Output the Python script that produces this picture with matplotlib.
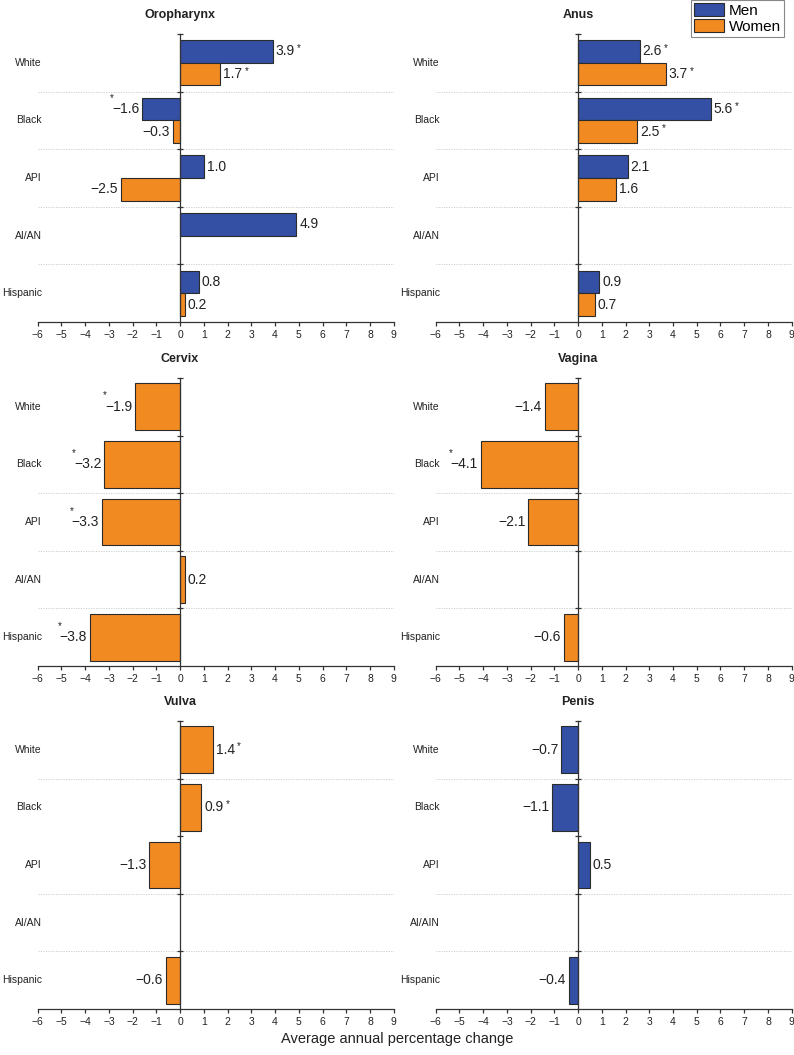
import matplotlib
matplotlib.use("Agg")
import matplotlib.pyplot as plt
import matplotlib.transforms as mtransforms
from matplotlib.patches import Patch

plt.rcParams['font.family'] = ['Liberation Sans', 'DejaVu Sans']

# ---------------- data ----------------
categories = ["White", "Black", "API", "AI/AN", "Hispanic"]
categories_penis = ["White", "Black", "API", "AI/AIN", "Hispanic"]

oro_men = [3.9, -1.6, 1.0, 4.9, 0.8]
oro_women = [1.7, -0.3, -2.5, None, 0.2]
oro_men_sig = [True, True, False, False, False]
oro_women_sig = [True, False, False, False, False]

anus_men = [2.6, 5.6, 2.1, None, 0.9]
anus_women = [3.7, 2.5, 1.6, None, 0.7]
anus_men_sig = [True, True, False, False, False]
anus_women_sig = [True, True, False, False, False]

cervix_women = [-1.9, -3.2, -3.3, 0.2, -3.8]
cervix_sig = [True, True, True, False, True]

vagina_women = [-1.4, -4.1, -2.1, None, -0.6]
vagina_sig = [False, True, False, False, False]

vulva_women = [1.4, 0.9, -1.3, None, -0.6]
vulva_sig = [True, True, False, False, False]

penis_men = [-0.7, -1.1, 0.5, None, -0.4]
penis_sig = [False, False, False, False, False]

x_ticks = list(range(-6, 10))

BLUE = "#3450A4"
ORANGE = "#F28A22"
EDGE = "#2b2b2b"

W, H = 794, 1055
fig = plt.figure(figsize=(W / 100, H / 100), dpi=100)

left_x, right_x = 37.7, 435.7
ax_w = 356.0
rows = [(34, 322), (378, 666), (721, 1009)]


def make_ax(x0, top, bottom):
    return fig.add_axes([x0 / W, 1 - bottom / H, ax_w / W, (bottom - top) / H])


def label_bar(ax, v, y, sig):
    if v >= 0:
        t = ax.annotate(f"{v:.1f}", xy=(v, y), xytext=(2, 0), textcoords="offset points",
                        ha="left", va="center", fontsize=10, color="#222222")
        if sig:
            ax.annotate("*", xy=(1, 0.75), xycoords=t, xytext=(1.5, 0),
                        textcoords="offset points", ha="left", va="center",
                        fontsize=7, color="#222222")
    else:
        t = ax.annotate(f"\u2212{abs(v):.1f}", xy=(v, y), xytext=(-2, 0),
                        textcoords="offset points", ha="right", va="center",
                        fontsize=10, color="#222222")
        if sig:
            ax.annotate("*", xy=(0.0, 1.0), xycoords=t, xytext=(0, -0.5),
                        textcoords="offset points", ha="center", va="bottom",
                        fontsize=7, color="#222222")


def panel(ax, title, cats, series, seps):
    # series: list of (values, sig, color)
    n = len(series)
    for s_idx, (vals, sig, col) in enumerate(series):
        if n == 2:
            h = 0.393
            off = -h / 2 if s_idx == 0 else h / 2
        else:
            h = 0.81
            off = 0.0
        for i, v in enumerate(vals):
            if v is None:
                continue
            y = i + off
            ax.barh(y, v, height=h, color=col, edgecolor=EDGE, linewidth=0.8, zorder=3)
            label_bar(ax, v, y, sig[i])

    ax.set_xlim(-6, 9)
    ax.set_ylim(4.5, -0.5)
    for s in seps:
        ax.axhline(s + 0.5, color="#c8c8c8", linestyle=(0, (1.5, 1.5)), linewidth=0.6, zorder=1)

    for sp in ["top", "right"]:
        ax.spines[sp].set_visible(False)
    ax.spines["left"].set_position(("data", 0))
    ax.spines["left"].set_color("#333333")
    ax.spines["left"].set_linewidth(0.9)
    ax.spines["left"].set_zorder(4)
    ax.spines["bottom"].set_color("#333333")
    ax.spines["bottom"].set_linewidth(0.9)

    ax.set_yticks([-0.5, 0.5, 1.5, 2.5, 3.5])
    ax.set_yticklabels([])
    ax.tick_params(axis="y", direction="inout", length=4, width=0.9, color="#333333")

    ax.set_xticks(x_ticks)
    ax.set_xticklabels([("\u2212" + str(-t)) if t < 0 else str(t) for t in x_ticks])
    ax.tick_params(axis="x", direction="out", length=3, width=0.9, color="#333333",
                   labelsize=7.5, pad=2.5, labelcolor="#222222")

    for i, c in enumerate(cats):
        ax.text(0.012, i, c, transform=mtransforms.blended_transform_factory(ax.transAxes, ax.transData),
                ha="right", va="center", fontsize=7.5, color="#222222")

    ax.text(0, 1.067, title, transform=mtransforms.blended_transform_factory(ax.transData, ax.transAxes),
            ha="center", va="center", fontsize=9, fontweight="bold", color="#222222")


ax1 = make_ax(left_x, *rows[0])
panel(ax1, "Oropharynx", categories,
      [(oro_men, oro_men_sig, BLUE), (oro_women, oro_women_sig, ORANGE)], [0, 1, 2, 3])

ax2 = make_ax(right_x, *rows[0])
panel(ax2, "Anus", categories,
      [(anus_men, anus_men_sig, BLUE), (anus_women, anus_women_sig, ORANGE)], [0, 1, 2, 3])

ax3 = make_ax(left_x, *rows[1])
panel(ax3, "Cervix", categories, [(cervix_women, cervix_sig, ORANGE)], [1, 2, 3])

ax4 = make_ax(right_x, *rows[1])
panel(ax4, "Vagina", categories, [(vagina_women, vagina_sig, ORANGE)], [1, 2, 3])

ax5 = make_ax(left_x, *rows[2])
panel(ax5, "Vulva", categories, [(vulva_women, vulva_sig, ORANGE)], [0, 2, 3])

ax6 = make_ax(right_x, *rows[2])
panel(ax6, "Penis", categories_penis, [(penis_men, penis_sig, BLUE)], [0, 2, 3])

handles = [Patch(facecolor=BLUE, edgecolor=EDGE, linewidth=0.8, label="Men"),
           Patch(facecolor=ORANGE, edgecolor=EDGE, linewidth=0.8, label="Women")]
leg = fig.legend(handles=handles, loc="upper right", bbox_to_anchor=(784 / W, 1.0),
                 fontsize=11, handlelength=1.95, handleheight=0.9, labelspacing=0.12,
                 handletextpad=0.3, borderpad=0.2, borderaxespad=0, fancybox=False,
                 framealpha=1, edgecolor="#888888")
leg.get_frame().set_linewidth(0.8)

fig.text(0.5, 1 - 1039 / H, "Average annual percentage change", ha="center", va="center",
         fontsize=10.5, color="#222222")

fig.savefig("out.png", dpi=100)
